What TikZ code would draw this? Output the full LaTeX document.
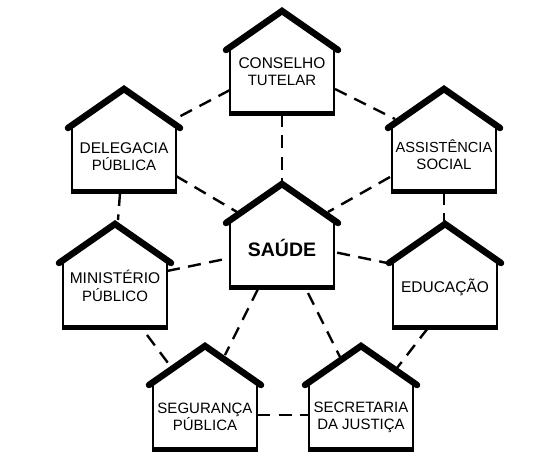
\documentclass[tikz,border=0pt]{standalone}
\usepackage{fontspec}
\setmainfont{Liberation Sans}
\usetikzlibrary{backgrounds}
\tikzset{
  body/.style={minimum width=104pt,minimum height=63pt,inner sep=0pt,outer sep=0pt,fill=white,draw=black,line width=1.5pt},
  roof/.style={line width=6.5pt,line cap=round,line join=miter,draw=black},
  base/.style={line width=5pt,draw=black},
  label/.style={align=center,font=\fontsize{15}{17.3}\selectfont,inner sep=0pt},
  link/.style={line width=2.4pt,dash pattern=on 13pt off 8.5pt,draw=black}
}
\newcommand{\house}[5]{%
  \node[body] (#1) at (#2,#3+73) {};
  \fill[white] (#2-57,#3+42) -- (#2,#3) -- (#2+57,#3+42) -- cycle;
  \draw[roof] (#2-56,#3+42) -- (#2,#3+3) -- (#2+56,#3+42);
  \draw[base] ([shift={(-1,1.5)}]#1.south west) -- ([shift={(1,1.5)}]#1.south east);
  \node[label] (#1t) at (#2,#3+#4) {#5};
}
\newcommand{\wide}{\fontsize{15.5}{17.8}\selectfont}
\newcommand{\link}[6]{\draw[link] ([shift={(#2,#3)}]#1.center) -- ([shift={(#5,#6)}]#4.center);}
\begin{document}
\begin{tikzpicture}[x=1pt,y=-1pt]
\useasboundingbox (0,0) rectangle (556,462);
\house{con}{282}{8}{64}{\wide CONSELHO\\TUTELAR}
\house{del}{124}{86}{71}{\wide DELEGACIA\\PÚBLICA}
\house{ass}{444}{86}{69}{\fontsize{14.6}{17.5}\selectfont ASSISTÊNCIA\\SOCIAL}
\house{sau}{282}{181}{67}{\fontsize{19.5}{21}\selectfont\bfseries SAÚDE}
\house{min}{115}{221}{65}{\wide MINISTÉRIO\\PÚBLICO}
\house{edu}{445}{221}{66}{\wide EDUCAÇÃO}
\house{seg}{205}{343}{74}{SEGURANÇA\\PÚBLICA}
\house{sec}{361}{343}{74}{SECRETARIA\\DA JUSTIÇA}
\begin{scope}[on background layer]
\link{con}{-52}{9}{del}{49}{-39}
\link{con}{53}{8}{ass}{-49}{-40}
\link{con}{0}{33}{sau}{0}{-73}
\link{ass}{-54}{18}{sau}{46}{-42}
\link{del}{52}{17}{sau}{-45}{-42}
\link{del}{-4}{34}{min}{3}{-74}
\link{ass}{0}{33}{edu}{-1}{-73}
\link{min}{52}{-23}{sau}{-52}{4}
\link{edu}{-53}{-30}{sau}{52}{-2}
\link{min}{32}{41}{seg}{-37}{-53}
\link{sau}{-24}{35}{seg}{20}{-61}
\link{sau}{26}{39}{sec}{-21}{-59}
\link{edu}{-17}{34}{sec}{36}{-48}
\link{seg}{52}{-1}{sec}{-52}{-1}
\end{scope}
\end{tikzpicture}
\end{document}
